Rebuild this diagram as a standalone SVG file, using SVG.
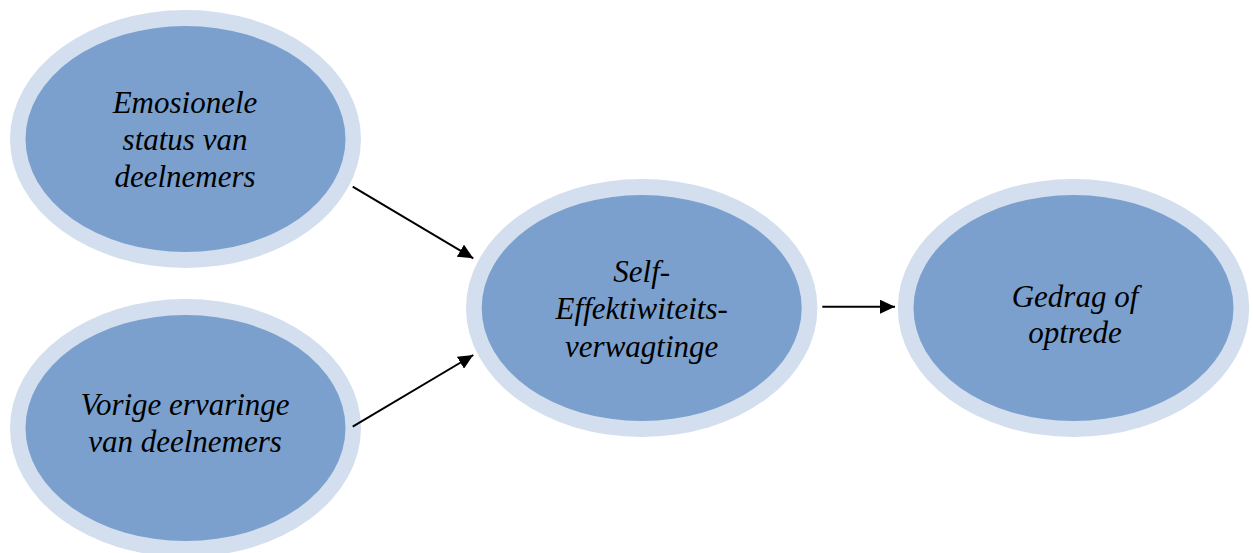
<svg xmlns="http://www.w3.org/2000/svg" width="1253" height="553" viewBox="0 0 1253 553">
<style>
.ring{fill:#D3DFEE}
.core{fill:#7BA0CD}
.lbl{font-family:"Liberation Serif","Times New Roman",serif;font-style:italic;font-size:31px;fill:#000;text-anchor:middle}
.conn{stroke:#000;stroke-width:2;fill:none}
</style>
<defs>
<marker id="ah" markerWidth="15" markerHeight="14" refX="15" refY="7" orient="auto" markerUnits="userSpaceOnUse" viewBox="0 0 15 14">
<path d="M0,0 L15,7 L0,14 Z" fill="#000"/>
</marker>
</defs>
<rect width="1253" height="553" fill="#fff"/>
<g id="node-emosionele">
<ellipse class="ring" cx="185.5" cy="139" rx="175.5" ry="129"/>
<ellipse class="core" cx="185.5" cy="139" rx="160" ry="113"/>
<text class="lbl" x="185" y="113">Emosionele</text>
<text class="lbl" x="185" y="150">status van</text>
<text class="lbl" x="185" y="187">deelnemers</text>
</g>
<g id="node-vorige">
<ellipse class="ring" cx="185.5" cy="428" rx="175.5" ry="129"/>
<ellipse class="core" cx="185.5" cy="428" rx="160" ry="113"/>
<text class="lbl" x="185" y="415">Vorige ervaringe</text>
<text class="lbl" x="185" y="452">van deelnemers</text>
</g>
<g id="node-self">
<ellipse class="ring" cx="641.7" cy="308" rx="175.7" ry="129"/>
<ellipse class="core" cx="641.7" cy="308" rx="160" ry="113"/>
<text class="lbl" x="641.7" y="282">Self-</text>
<text class="lbl" x="641.7" y="319">Effektiwiteits-</text>
<text class="lbl" x="641.7" y="357">verwagtinge</text>
</g>
<g id="node-gedrag">
<ellipse class="ring" cx="1073.5" cy="308" rx="175.7" ry="129"/>
<ellipse class="core" cx="1073.5" cy="308" rx="160" ry="113"/>
<text class="lbl" x="1075" y="307">Gedrag of</text>
<text class="lbl" x="1075" y="343">optrede</text>
</g>
<g id="connectors">
<line class="conn" x1="352.7" y1="186.7" x2="473.3" y2="258.3" marker-end="url(#ah)"/>
<line class="conn" x1="352.7" y1="426.7" x2="473.3" y2="355" marker-end="url(#ah)"/>
<line class="conn" x1="822.3" y1="306.7" x2="895" y2="306.7" marker-end="url(#ah)"/>
</g>
</svg>
